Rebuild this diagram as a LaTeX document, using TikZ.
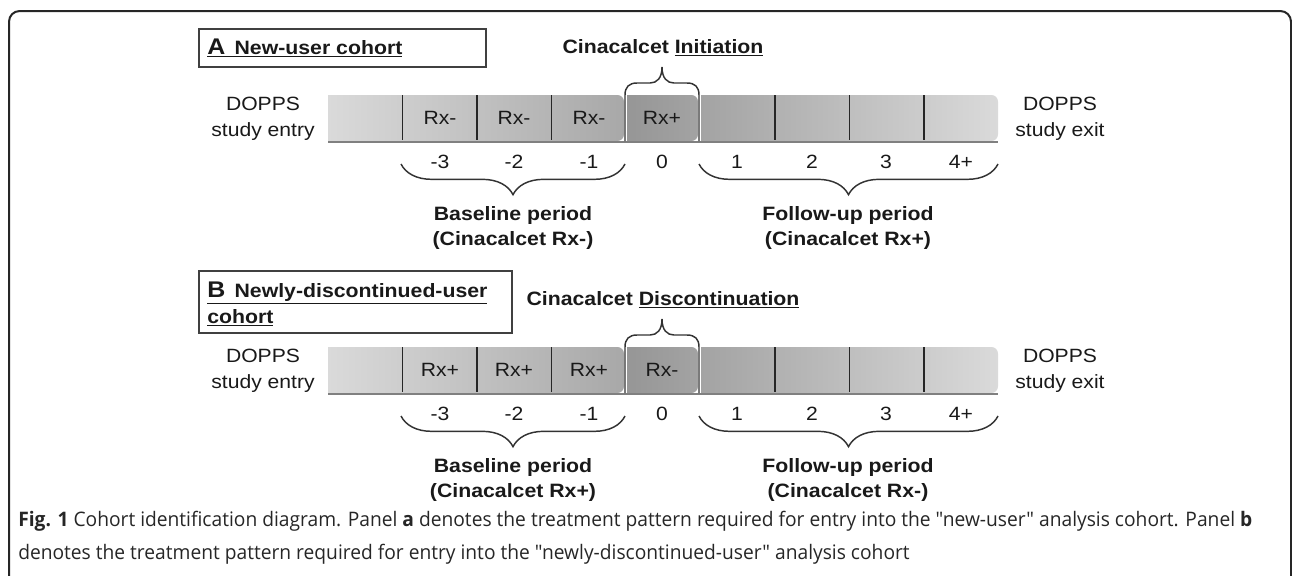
\documentclass[tikz,border=0pt]{standalone}
\usepackage{fontspec}
\setmainfont[FakeStretch=1.1]{Liberation Sans}
\newfontfamily\capfont[FakeStretch=0.96]{Open Sans}
\usepackage{tikz}
\usetikzlibrary{decorations.pathreplacing,positioning}

\definecolor{barlight}{HTML}{DADADA}
\definecolor{bardark}{HTML}{A8A8A8}
\definecolor{barmid}{HTML}{A3A3A3}
\definecolor{inkgray}{HTML}{333333}

\tikzset{
  lbl/.style={font=\fontsize{14.4}{19.5}\selectfont, text=black!90, inner sep=0pt, align=center},
  hdr/.style={font=\fontsize{14.5}{19}\selectfont\bfseries, text=black!90, inner sep=0pt, align=center},
  divider/.style={draw=black!85, line width=1.2pt},
  bracket/.style={draw=inkgray, line width=1.1pt},
  lowbrace/.style={bracket, decorate, decoration={brace, mirror, amplitude=23pt}},
  panelbox/.style={draw=black!75, line width=1.3pt},
}

\begin{document}
\begin{tikzpicture}[x=0.75pt, y=-0.75pt]
\useasboundingbox (0,0) rectangle (1292,575);
% Frame
\draw[black!85, line width=1.5pt, rounded corners=8pt] (9,600) -- (9,11) -- (1291,11) -- (1291,600);

% Panel titles
\draw[panelbox] (199,29) rectangle (486,67);
\node[hdr, anchor=base west] (titleA) at (207,54) {\underline{{\fontsize{17}{17}\selectfont A}\hspace{7pt}New-user cohort}};
\draw[panelbox] (199,271) rectangle (512,333);
\node[hdr, anchor=base west] (titleB) at (207,297) {\underline{{\fontsize{17}{17}\selectfont B}\hspace{7pt}Newly-discontinued-user}};
\node[hdr, anchor=base west] (titleBb) at (207,323) {\underline{cohort}};

% Timelines
\foreach \p/\yo/\before/\after/\event in {A/0/Rx-/Rx+/Initiation, B/252/Rx+/Rx-/Discontinuation} {
\begin{scope}[shift={(0,\yo)}]
  % bar
  \shade[left color=barlight, right color=bardark] (328,141) -- (328,95) [rounded corners=5pt] -- (624,95) -- (624,141) [sharp corners] -- cycle;
  \shade[left color=barmid!92!black, right color=barmid] (627,141) -- (627,95) [rounded corners=5pt] -- (698,95) -- (698,141) [sharp corners] -- cycle;
  \shade[left color=barmid, right color=barlight] (701,141) -- (701,95) [rounded corners=5pt] -- (998,95) -- (998,141) [sharp corners] -- cycle;
  \foreach \x in {402.5,477,551.5,775,849.5,924}
    \draw[divider] (\x,95) -- (\x,140);
  \draw[gray, line width=2pt] (328,142) -- (998,142);

  % cells
  \node[lbl] (rx\p1) at (440,118) {\before};
  \node[lbl] (rx\p2) at (514,118) {\before};
  \node[lbl] (rx\p3) at (589,118) {\before};
  \node[lbl] (rx\p0) at (662,118) {\after};
  \foreach \n/\x [count=\i] in {-3/440,-2/514,-1/589,0/662,1/737,2/812,3/886,4+/961}
    \node[lbl] (t\p\i) at (\x,162) {\n};

  \node[lbl] (entry\p) at (263,119) {DOPPS\\study entry};
  \node[lbl] (exit\p) at (1060,119) {DOPPS\\study exit};
  \node[hdr] (event\p) at (663,48) {Cinacalcet \underline{\event}};

  % brace over month 0
  \coordinate (s\p) at (625,141);
  \draw[bracket] (s\p) -- ++(0,-46) .. controls +(0,-8) and +(-8,0) .. ++(12,-12) -- ++(13,0)
    .. controls +(7,0) and +(0,11) .. ++(12,-16) .. controls +(0,11) and +(-7,0) .. ++(12,16)
    -- ++(13,0) .. controls +(8,0) and +(0,-8) .. ++(12,12) -- ++(0,46);

  % period braces
  \coordinate (b\p1) at (401,164);
  \coordinate (b\p2) at (625,164);
  \coordinate (b\p3) at (699,164);
  \coordinate (b\p4) at (998,164);
  \draw[lowbrace] (b\p1) -- (b\p2);
  \draw[lowbrace] (b\p3) -- (b\p4);
  \node[hdr] (base\p) at (513,228) {Baseline period\\(Cinacalcet \before)};
  \node[hdr] (fol\p) at (848,228) {Follow-up period\\(Cinacalcet \after)};
\end{scope}
}

% Caption
\node[anchor=north west, align=left, inner sep=0pt, text=black!85,
  font=\capfont\fontsize{15}{24.5}\selectfont] (caption) at (18,511)
  {\textbf{Fig. 1} Cohort identification diagram. Panel \textbf{a} denotes the treatment pattern required for entry into the "new-user" analysis cohort. Panel \textbf{b}\\
   denotes the treatment pattern required for entry into the "newly-discontinued-user" analysis cohort};
\end{tikzpicture}
\end{document}
